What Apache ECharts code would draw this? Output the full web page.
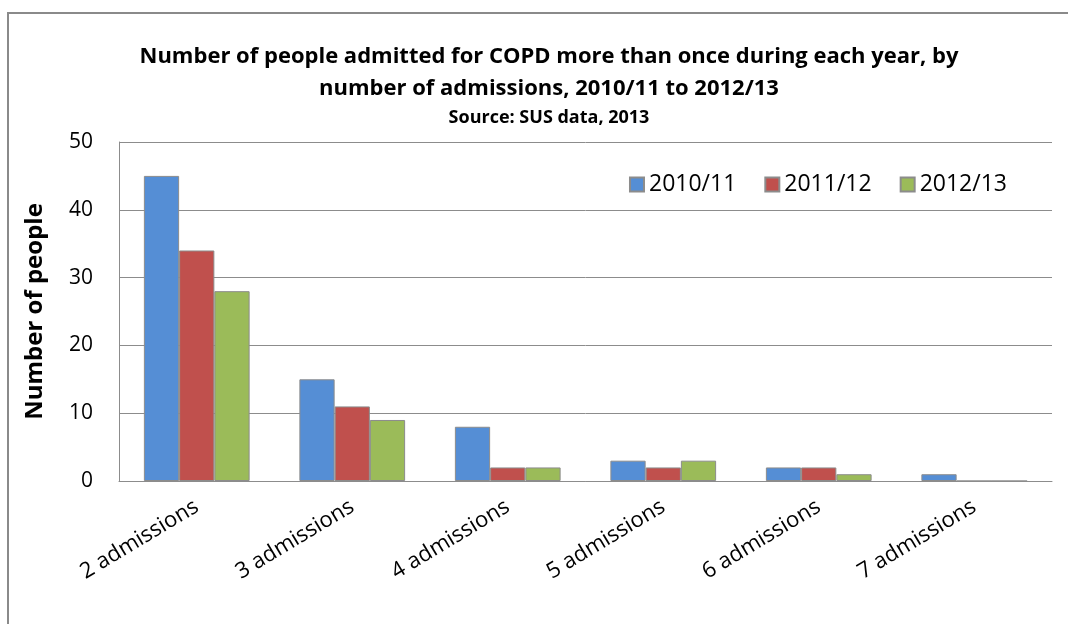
<!DOCTYPE html>
<html><head><meta charset="utf-8">
<script src="https://cdn.jsdelivr.net/npm/echarts@6/dist/echarts.min.js"></script>
<style>html,body{margin:0;padding:0;background:#fff}#c{width:1068px;height:624px}</style>
</head><body><div id="c"></div>
<script>
var categories = ['2 admissions','3 admissions','4 admissions','5 admissions','6 admissions','7 admissions'];
var seriesNames = ['2010/11','2011/12','2012/13'];
var s2010 = [45, 15, 8, 3, 2, 1];
var s2011 = [34, 11, 2, 2, 2, 0];
var s2012 = [28, 9, 2, 3, 1, 0];
var colors = ['#558ED5','#C0504D','#9BBB59'];
var FONT = "'Open Sans','Liberation Sans',sans-serif";
var chart = echarts.init(document.getElementById('c'));
function bar(name, data, color){
  return {name:name, type:'bar', data:data, barGap:'0%', barCategoryGap:'32%',
    itemStyle:{color:color, borderColor:'#8c8c8c', borderWidth:1}};
}
chart.setOption({
  animation:false,
  graphic:[{type:'rect', shape:{x:8,y:13,width:1200,height:800}, style:{fill:'none', stroke:'#8a8a8a', lineWidth:2}, silent:true}],
  title:{
    text:'Number of people admitted for COPD more than once during each year, by\nnumber of admissions, 2010/11 to 2012/13',
    subtext:'Source: SUS data, 2013',
    left:544, textAlign:'center', top:36, itemGap:4,
    textStyle:{fontFamily:FONT, fontWeight:'bold', fontSize:22, color:'#000', lineHeight:32},
    subtextStyle:{fontFamily:FONT, fontWeight:'bold', fontSize:18, color:'#000'}
  },
  legend:{
    data:seriesNames, right:56, top:168, itemWidth:14, itemHeight:14, itemGap:28,
    icon:'rect',
    textStyle:{fontFamily:FONT, fontSize:23, color:'#000'}
  },
  grid:{left:119, right:16, top:142, bottom:143, containLabel:false},
  xAxis:{
    type:'category', data:categories,
    axisLine:{lineStyle:{color:'#8c8c8c'}}, axisTick:{show:false},
    axisLabel:{rotate:31, fontFamily:FONT, fontSize:22, color:'#000', margin:24, interval:0}
  },
  yAxis:{
    type:'value', min:0, max:50, interval:10,
    name:'Number of people', nameLocation:'middle', nameGap:72,
    nameTextStyle:{fontFamily:FONT, fontWeight:'bold', fontSize:24, color:'#000'},
    axisLine:{show:true, lineStyle:{color:'#8c8c8c'}}, axisTick:{show:false},
    axisLabel:{fontFamily:FONT, fontSize:21, color:'#000', margin:26},
    splitLine:{lineStyle:{color:'#8c8c8c', width:1}}
  },
  series:[bar(seriesNames[0], s2010, colors[0]), bar(seriesNames[1], s2011, colors[1]), bar(seriesNames[2], s2012, colors[2])]
});
</script></body></html>
